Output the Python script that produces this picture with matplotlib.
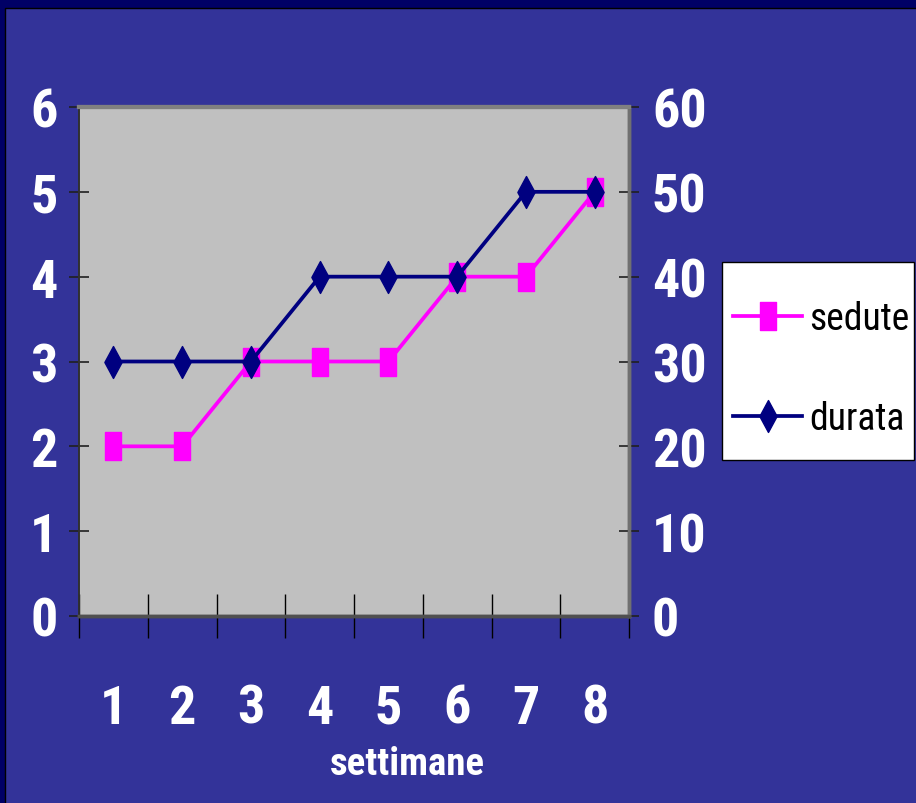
import os
import matplotlib
matplotlib.use("Agg")
import matplotlib.pyplot as plt
from matplotlib import font_manager
from matplotlib.font_manager import FontProperties
from matplotlib.path import Path
from matplotlib.patches import Rectangle
from matplotlib.lines import Line2D

# Data
settimane = [1, 2, 3, 4, 5, 6, 7, 8]
sedute = [2, 2, 3, 3, 3, 4, 4, 5]
durata = [30, 30, 30, 40, 40, 40, 50, 50]
left_ticks = [0, 1, 2, 3, 4, 5, 6]
right_ticks = [0, 10, 20, 30, 40, 50, 60]

BG = '#333399'
DARK = '#000066'
PLOT_BG = '#C0C0C0'
MAGENTA = '#FF00FF'
NAVY = '#000080'


def find_font(patterns, fallback_weight):
    """Pick the narrowest installed face matching one of the file patterns."""
    files = [f.fname for f in font_manager.fontManager.ttflist]
    for pat in patterns:
        for fn in files:
            if os.path.basename(fn).lower().startswith(pat.lower()):
                return lambda size: FontProperties(fname=fn, size=size)
    return lambda size: FontProperties(family='Liberation Sans', weight=fallback_weight, size=size)


bold_font = find_font(['NotoSans-ExtraCondensedBold.', 'LiberationSansNarrow-Bold.',
                       'RobotoCondensed-Bold.', 'DejaVuSansCondensed-Bold.',
                       'NotoSans-CondensedBold.'], 'bold')
reg_font = find_font(['NotoSans-ExtraCondensed.', 'LiberationSansNarrow-Regular.',
                      'RobotoCondensed-Regular.', 'DejaVuSansCondensed.',
                      'NotoSans-Condensed.'], 'normal')

# tall markers: narrow rectangle and narrow diamond
rect_marker = Path([(-0.27, -0.5), (0.27, -0.5), (0.27, 0.5), (-0.27, 0.5), (-0.27, -0.5)],
                   [Path.MOVETO, Path.LINETO, Path.LINETO, Path.LINETO, Path.CLOSEPOLY])
diam_marker = Path([(0, -0.5), (0.27, 0), (0, 0.5), (-0.27, 0), (0, -0.5)],
                   [Path.MOVETO, Path.LINETO, Path.LINETO, Path.LINETO, Path.CLOSEPOLY])

W, H = 916, 804
fig = plt.figure(figsize=(W / 100, H / 100), dpi=100, facecolor=DARK)

# slide background panel
fig.patches.append(Rectangle((5 / W, -0.01), 1, 1 - 9 / H + 0.01, transform=fig.transFigure,
                             facecolor=BG, edgecolor='black', linewidth=1.0, zorder=-10))

ax = fig.add_axes([79 / W, 1 - 617 / H, (629 - 79) / W, (617 - 108) / H])
ax.set_facecolor(PLOT_BG)
ax2 = ax.twinx()

ax.plot(settimane, sedute, color=MAGENTA, lw=2.7, marker=rect_marker, markersize=20,
        markerfacecolor=MAGENTA, markeredgecolor=MAGENTA, label='sedute', zorder=3)
ax2.plot(settimane, durata, color=NAVY, lw=2.7, marker=diam_marker, markersize=23,
         markerfacecolor=NAVY, markeredgecolor=NAVY, label='durata', zorder=3)

ax.set_xlim(0.5, 8.5)
ax.set_ylim(0, 6)
ax2.set_ylim(0, 60)

# category labels at centers, tick marks at category boundaries
ax.set_xticks(settimane)
ax.set_xticklabels([str(s) for s in settimane])
ax.set_xticks([i + 0.5 for i in range(0, 9)], minor=True)
ax.tick_params(axis='x', which='major', length=0, pad=48, labelcolor='white')
ax.tick_params(axis='x', which='minor', direction='inout', length=32, width=1, color='black')

ax.set_yticks(left_ticks)
ax.set_yticklabels([str(v) for v in left_ticks])
ax.tick_params(axis='y', direction='inout', length=15, width=1.2, color='#202020',
               pad=8, labelcolor='white')
ax2.set_yticks(right_ticks)
ax2.set_yticklabels([str(v) for v in right_ticks])
ax2.tick_params(axis='y', direction='inout', length=15, width=1.2, color='#202020',
                pad=9, labelcolor='white')

for a in (ax, ax2):
    for lab in a.get_xticklabels() + a.get_yticklabels():
        lab.set_fontproperties(bold_font(39))

for a in (ax, ax2):
    a.spines['top'].set_color('#808080')
    a.spines['top'].set_linewidth(3)
    a.spines['right'].set_color('#707070')
    a.spines['right'].set_linewidth(2.5)
    a.spines['bottom'].set_color('#505050')
    a.spines['bottom'].set_linewidth(2.5)
    a.spines['left'].set_color('#303030')
    a.spines['left'].set_linewidth(1.2)

ax.set_xlabel('settimane', color='white', fontproperties=bold_font(28))
ax.xaxis.set_label_coords((407 - 79) / 550, -(783 - 617) / 509, transform=ax.transAxes)
ax.xaxis.label.set_va('bottom')

# legend box and entries
fig.patches.append(Rectangle((722 / W, 1 - 461 / H), (914 - 722) / W, (461 - 263) / H,
                             transform=fig.transFigure, facecolor='white',
                             edgecolor='black', linewidth=1.0, zorder=5))
handles = [Line2D([], [], color=MAGENTA, lw=2.7, marker=rect_marker, markersize=20,
                  markerfacecolor=MAGENTA, markeredgecolor=MAGENTA),
           Line2D([], [], color=NAVY, lw=2.7, marker=diam_marker, markersize=23,
                  markerfacecolor=NAVY, markeredgecolor=NAVY)]
leg = fig.legend(handles, ['sedute', 'durata'], loc='center left',
                 bbox_to_anchor=(733 / W, 1 - 369.5 / H),
                 prop=reg_font(27), handlelength=1.84, handletextpad=0.2,
                 labelspacing=1.68, borderpad=0, borderaxespad=0, frameon=False)
leg.set_zorder(6)

fig.savefig('out.png', dpi=100, facecolor=DARK)
